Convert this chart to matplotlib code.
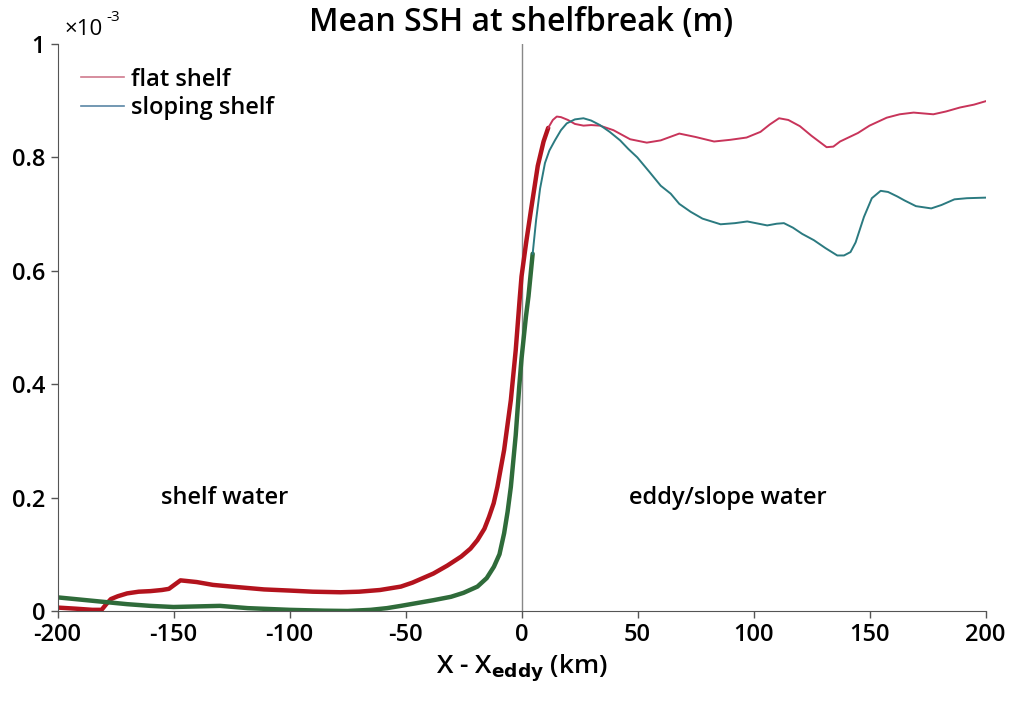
import numpy as np
import matplotlib
matplotlib.use("Agg")
import matplotlib.pyplot as plt

plt.rcParams['font.family'] = ['Open Sans', 'DejaVu Sans']
plt.rcParams['font.weight'] = 'semibold'

# SSH values in units of 1e-3 m
x_flat = np.array([-200, -192, -185, -181, -179, -177, -174, -170, -165, -160, -155, -152, -149, -147,
                   -140, -133, -125, -111, -100, -90, -78, -70, -61, -52, -47, -38, -32, -26, -22, -19,
                   -16, -14, -12, -10.4, -7.5, -4.6, -2.5, -0.8, 0, 2, 4, 7, 9.5, 11.5, 13.5, 15.2, 17,
                   20, 23, 26.7, 30, 33.8, 39.6, 46.8, 54, 60, 68, 75, 83, 90, 97, 103, 107, 111, 115,
                   120, 125, 131.5, 134.4, 137.3, 145, 150, 157.4, 163, 169, 177.5, 183, 189, 195, 200])
ssh_flat = np.array([0.006, 0.004, 0.002, 0.002, 0.012, 0.021, 0.026, 0.031, 0.034, 0.035, 0.037, 0.039,
                     0.048, 0.054, 0.051, 0.046, 0.043, 0.038, 0.036, 0.034, 0.033, 0.034, 0.037, 0.043,
                     0.050, 0.066, 0.080, 0.096, 0.110, 0.125, 0.145, 0.166, 0.19, 0.219, 0.284, 0.372,
                     0.46, 0.55, 0.59, 0.65, 0.705, 0.785, 0.828, 0.852, 0.866, 0.872, 0.871, 0.866, 0.859,
                     0.856, 0.857, 0.856, 0.848, 0.832, 0.826, 0.830, 0.842, 0.836, 0.828, 0.831, 0.835,
                     0.845, 0.858, 0.869, 0.866, 0.855, 0.838, 0.818, 0.819, 0.828, 0.843, 0.856, 0.870,
                     0.876, 0.879, 0.876, 0.881, 0.888, 0.893, 0.899])

x_slope = np.array([-200, -190, -180, -170, -160, -150, -140, -130, -118, -100, -85, -75, -65, -58, -52,
                    -45, -38, -30.4, -25, -19, -15, -11.9, -9.5, -7.5, -6, -4.6, -2.5, -1, 0, 1.9, 3,
                    4.8, 6.3, 8, 10.1, 12, 14.4, 17, 19.5, 23, 26.7, 30, 33.8, 38, 42.5, 46, 49.9, 55,
                    60, 64.3, 68, 72.9, 78, 85.8, 92, 97.3, 101, 105.9, 110, 113.1, 117, 121, 126, 131,
                    136.1, 139, 141.8, 144, 147.6, 151, 154.8, 158, 162, 165.1, 170, 176.6, 181, 186.6,
                    192, 200])
ssh_slope = np.array([0.024, 0.020, 0.016, 0.012, 0.009, 0.007, 0.008, 0.009, 0.005, 0.002, 0.0005, 0.0,
                      0.002, 0.005, 0.009, 0.014, 0.019, 0.025, 0.032, 0.043, 0.058, 0.078, 0.10, 0.137,
                      0.175, 0.219, 0.31, 0.395, 0.445, 0.519, 0.555, 0.63, 0.69, 0.745, 0.79, 0.812,
                      0.83, 0.848, 0.86, 0.867, 0.869, 0.865, 0.857, 0.845, 0.830, 0.815, 0.800, 0.775,
                      0.750, 0.736, 0.718, 0.704, 0.692, 0.682, 0.684, 0.687, 0.684, 0.680, 0.683, 0.684,
                      0.676, 0.665, 0.654, 0.640, 0.627, 0.627, 0.633, 0.650, 0.695, 0.728, 0.741, 0.739,
                      0.731, 0.724, 0.714, 0.710, 0.716, 0.726, 0.728, 0.729])

yticks = [0, 0.2, 0.4, 0.6, 0.8, 1]
ytick_labels = ["0", "0.2", "0.4", "0.6", "0.8", "1"]
xticks = [-200, -150, -100, -50, 0, 50, 100, 150, 200]

fig = plt.figure(figsize=(10.11, 7.06), dpi=100)
ax = fig.add_axes([0.0569, 0.1346, 0.9179, 0.8031])

# thick part of each curve (shelf side), thin part beyond
cut_flat = 12.5
cut_slope = 5
m = x_flat <= cut_flat
ax.plot(x_flat[m], ssh_flat[m], color='#b3131d', lw=3.2, solid_capstyle='round')
ax.plot(x_flat[x_flat >= cut_flat - 1], ssh_flat[x_flat >= cut_flat - 1], color='#c8345a', lw=1.4)
m = x_slope <= cut_slope
ax.plot(x_slope[m], ssh_slope[m], color='#2f6b3a', lw=3.2, solid_capstyle='round')
ax.plot(x_slope[x_slope >= cut_slope - 1], ssh_slope[x_slope >= cut_slope - 1], color='#2b7a80', lw=1.4)

ax.axvline(0, color='#888888', lw=1, zorder=0)

# legend handles (thin lines)
ax.plot([], [], color='#d07a8e', lw=1.2, label='flat shelf')
ax.plot([], [], color='#5a86a6', lw=1.2, label='sloping shelf')
leg = ax.legend(loc='upper left', bbox_to_anchor=(0.0, 1.0), frameon=False, fontsize=17,
                handlelength=1.8, handletextpad=0.3, labelspacing=0.2, borderaxespad=0.6)

ax.text(-128, 0.2, 'shelf water', fontsize=17, ha='center', va='center')
ax.text(89, 0.2, 'eddy/slope water', fontsize=17, ha='center', va='center')
# offset label drawn by hand
ax.text(0.008, 1.026, '\u00d710', transform=ax.transAxes, fontsize=16,
        ha='left', va='center', fontweight='normal')
ax.text(0.053, 1.047, '-3', transform=ax.transAxes, fontsize=11,
        ha='left', va='center', fontweight='normal')

ax.set_xlim(-200, 200)
ax.set_ylim(0, 1)
ax.set_xticks(xticks)
ax.set_xticklabels([str(t) for t in xticks])
ax.set_yticks(yticks)
ax.set_yticklabels(ytick_labels)
ax.tick_params(direction='out', length=5, width=1, color='#555555', labelsize=17, pad=4)
for s in ['top', 'right']:
    ax.spines[s].set_visible(False)
for s in ['left', 'bottom']:
    ax.spines[s].set_color('#555555')

ax.set_title('Mean SSH at shelfbreak (m)', fontsize=23, pad=9, fontweight='semibold')
ax.set_xlabel(r'X - X$_{\mathbf{eddy}}$ (km)', fontsize=19, labelpad=4, fontweight='semibold')

fig.savefig('out.png', dpi=100)
